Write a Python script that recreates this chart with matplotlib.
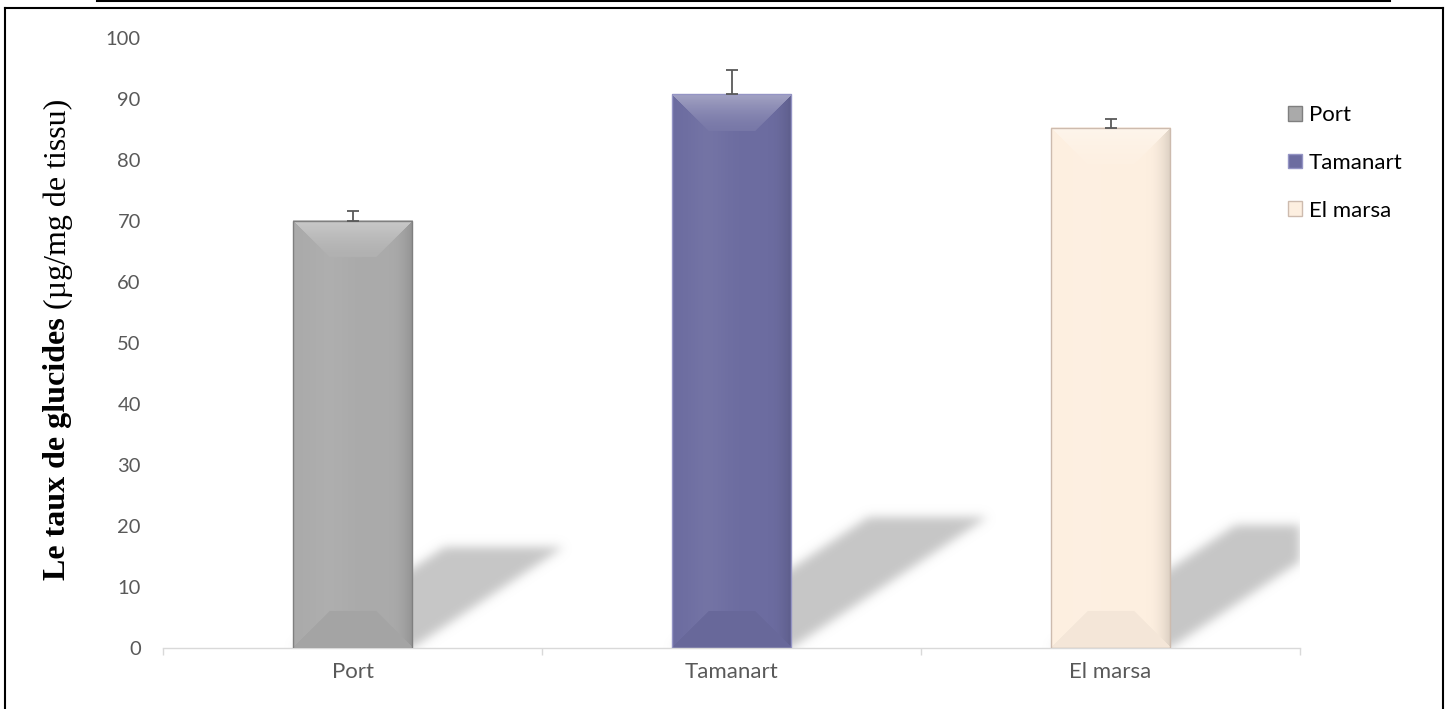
import numpy as np
import matplotlib
matplotlib.use('Agg')
import matplotlib.pyplot as plt
from matplotlib.colors import to_rgb
from matplotlib.patches import Patch, Rectangle
from matplotlib.lines import Line2D

# donnees
sites = ['Port', 'Tamanart', 'El marsa']
taux = [70.0, 90.8, 85.3]
erreur = [1.6, 4.0, 1.5]
couleurs = ['#AAAAAA', '#6C6CA0', '#FDEFE0']
bords = ['#7F7F7F', '#9494C4', '#CDBBAE']
yticks = list(range(0, 101, 10))

W, H = 1451, 709
fig = plt.figure(figsize=(W / 100, H / 100), dpi=100)
ax = fig.add_axes([163 / W, 61 / H, 1137 / W, 610 / H])
ax.set_xlim(-0.5, 2.5)
ax.set_ylim(0, 100)

ppx = 1137 / 3.0   # pixels par categorie
ppy = 610 / 100.0  # pixels par unite
bw = 0.314         # largeur des barres
bev = 37           # biseau en pixels


def blur(a, s):
    r = int(3 * s)
    k = np.exp(-0.5 * (np.arange(-r, r + 1) / s) ** 2)
    k /= k.sum()
    ny, nx = a.shape
    p = np.pad(a, ((r, r), (0, 0)))
    a = sum(k[j] * p[j:j + ny] for j in range(2 * r + 1))
    p = np.pad(a, ((0, 0), (r, r)))
    a = sum(k[j] * p[:, j:j + nx] for j in range(2 * r + 1))
    return a


# ombres portees
nx, ny = 1137, 610
xs = -0.5 + (np.arange(nx) + 0.5) / ppx
ys = (np.arange(ny) + 0.5) / ppy
X, Y = np.meshgrid(xs, ys)
mask = np.zeros((ny, nx))
for i, v in enumerate(taux):
    sh = 0.237 * v
    dx = 1.5 * sh * ppy / ppx
    x0 = i - bw / 2 + dx * (Y / sh)
    mask[(Y <= sh) & (X >= x0) & (X <= x0 + bw)] = 1.0
mask = blur(mask, 5)
shadow = np.zeros((ny, nx, 4))
shadow[..., :3] = 0.78
shadow[..., 3] = np.clip(mask, 0, 1)
ax.imshow(shadow, extent=(-0.5, 2.5, 0, 100), origin='lower', aspect='auto',
          zorder=1, interpolation='nearest')


def lighten(c, a):
    return c + (1 - c) * a


def darken(c, a):
    return c * (1 - a)


# barres biseautees
for i, v in enumerate(taux):
    base = np.array(to_rgb(couleurs[i]))
    wb = int(round(bw * ppx))
    hb = int(round(v * ppy))
    u = np.arange(wb) + 0.5
    w = np.arange(hb) + 0.5
    U, Wv = np.meshgrid(u, w)
    d = np.stack([hb - Wv, Wv, U, wb - U])
    idx = np.argmin(d, axis=0)
    dmin = np.min(d, axis=0)
    img = np.zeros((hb, wb, 3)) + base
    # degrade horizontal du corps
    t = U / wb
    body_light = 0.05 * np.exp(-((t - 0.3) / 0.18) ** 2)
    body_dark = 0.14 * np.clip((t - 0.8) / 0.2, 0, 1) ** 2
    img = lighten(img, body_light[..., None])
    img = darken(img, body_dark[..., None])
    inb = dmin < bev
    f = (1 - dmin / bev)[..., None]
    top = inb & (idx == 0)
    bot = inb & (idx == 1)
    img = np.where(top[..., None], lighten(base, 0.08 + 0.30 * f ** 1.5), img)
    img = np.where(bot[..., None], darken(base, 0.035), img)
    ax.imshow(np.clip(img, 0, 1), extent=(i - bw / 2, i + bw / 2, 0, v),
              origin='lower', aspect='auto', zorder=2, interpolation='bilinear')
    ax.add_patch(Rectangle((i - bw / 2, 0), bw, v, fill=False,
                           edgecolor=bords[i], lw=1, zorder=3))

ax.set_xlim(-0.5, 2.5)
ax.set_ylim(0, 100)

ax.errorbar(range(len(taux)), taux, yerr=[np.zeros(len(taux)), erreur],
            fmt='none', ecolor='#595959', elinewidth=1.3, capsize=4.5,
            capthick=1.3, zorder=4)

for s in ['top', 'right', 'left']:
    ax.spines[s].set_visible(False)
ax.spines['bottom'].set_color('#D9D9D9')
ax.spines['bottom'].set_linewidth(1)

ax.set_xticks([0, 1, 2], sites, family='Lato')
ax.set_xticks([-0.5, 0.5, 1.5, 2.5], minor=True)
ax.tick_params(axis='x', which='major', length=0, pad=10, labelsize=16,
               labelcolor='#595959')
ax.tick_params(axis='x', which='minor', length=5, color='#D9D9D9', width=1)
ax.set_yticks(yticks)
ax.set_yticklabels([str(t) for t in yticks], family='Lato')
ax.tick_params(axis='y', length=0, pad=16, labelsize=14.5, labelcolor='#595959')

# titre de l'axe y : partie grasse + partie normale
t1 = fig.text(58 / W, (H - 580) / H, 'Le taux de glucides', rotation=90,
              ha='center', va='bottom', fontsize=23, fontweight='bold',
              family='Liberation Serif')
ax.annotate(' (µg/mg de tissu)', xy=(0.5, 1.0), xycoords=t1, rotation=90,
            ha='center', va='bottom', fontsize=23, family='Liberation Serif',
            annotation_clip=False)

handles = [Patch(facecolor=couleurs[i], edgecolor=bords[i]) for i in range(3)]
fig.legend(handles, sites, loc='upper left',
           bbox_to_anchor=(1288 / W, 1 - 105 / H), frameon=False,
           prop={'family': 'Lato', 'size': 16}, handlelength=0.65,
           handleheight=0.65, handletextpad=0.3, labelspacing=1.25,
           borderpad=0, borderaxespad=0)

# cadre et trait du haut
lw = 1.5
fig.add_artist(Line2D([5 / W, 5 / W], [0, 1 - 8 / H], color='black', lw=lw))
fig.add_artist(Line2D([1443 / W, 1443 / W], [0, 1 - 8 / H], color='black', lw=lw))
fig.add_artist(Line2D([5 / W, 1443 / W], [1 - 8 / H, 1 - 8 / H], color='black', lw=lw))
fig.add_artist(Line2D([97 / W, 1390 / W], [1 - 1 / H, 1 - 1 / H], color='black', lw=lw))

fig.savefig('out.png', dpi=100)
